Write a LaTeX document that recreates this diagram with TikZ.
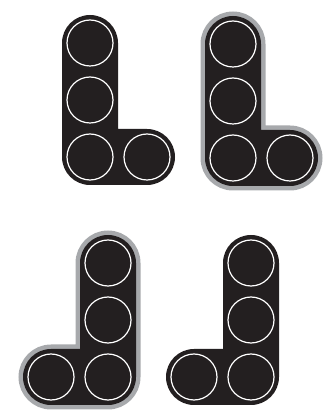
\documentclass[tikz,border=0pt]{standalone}
\definecolor{brickblack}{HTML}{231F20}
\definecolor{rimgray}{HTML}{A7A9AC}
\tikzset{
  brick/.style={fill=brickblack},
  rimmed/.style={preaction={draw=rimgray,line width=9pt}},
  stud/.style={circle,draw=white,line width=1.2pt,minimum size=46pt,inner sep=0pt}
}
\begin{document}
\begin{tikzpicture}[x=1pt,y=1pt]
  \useasboundingbox (0,0) rectangle (331,418);

  % top left, plain
  \path[brick] (62,261) -- (62,375) arc[start angle=180,end angle=0,radius=28]
    -- (118,289) -- (147,289) arc[start angle=90,end angle=-90,radius=28]
    -- (90,233) arc[start angle=270,end angle=180,radius=28] -- cycle;
  \node[stud] (A1) at (90,375){};
  \node[stud] (A2) at (90,318){};
  \node[stud] (A3) at (90,261){};
  \node[stud] (A4) at (147,261){};

  % top right, rimmed
  \path[brick,rimmed] (205,260) -- (205,374) arc[start angle=180,end angle=0,radius=28]
    -- (261,288) -- (290,288) arc[start angle=90,end angle=-90,radius=28]
    -- (233,232) arc[start angle=270,end angle=180,radius=28] -- cycle;
  \node[stud] (B1) at (233,374){};
  \node[stud] (B2) at (233,317){};
  \node[stud] (B3) at (233,260){};
  \node[stud] (B4) at (290,260){};

  % bottom left, rimmed
  \path[brick,rimmed] (136,41) -- (136,155) arc[start angle=0,end angle=180,radius=28]
    -- (80,69) -- (51,69) arc[start angle=90,end angle=270,radius=28]
    -- (108,13) arc[start angle=-90,end angle=0,radius=28] -- cycle;
  \node[stud] (C1) at (108,155){};
  \node[stud] (C2) at (108,98){};
  \node[stud] (C3) at (108,41){};
  \node[stud] (C4) at (51,41){};

  % bottom right, plain
  \path[brick] (279,41) -- (279,155) arc[start angle=0,end angle=180,radius=28]
    -- (223,69) -- (194,69) arc[start angle=90,end angle=270,radius=28]
    -- (251,13) arc[start angle=-90,end angle=0,radius=28] -- cycle;
  \node[stud] (D1) at (251,155){};
  \node[stud] (D2) at (251,98){};
  \node[stud] (D3) at (251,41){};
  \node[stud] (D4) at (194,41){};
\end{tikzpicture}
\end{document}
